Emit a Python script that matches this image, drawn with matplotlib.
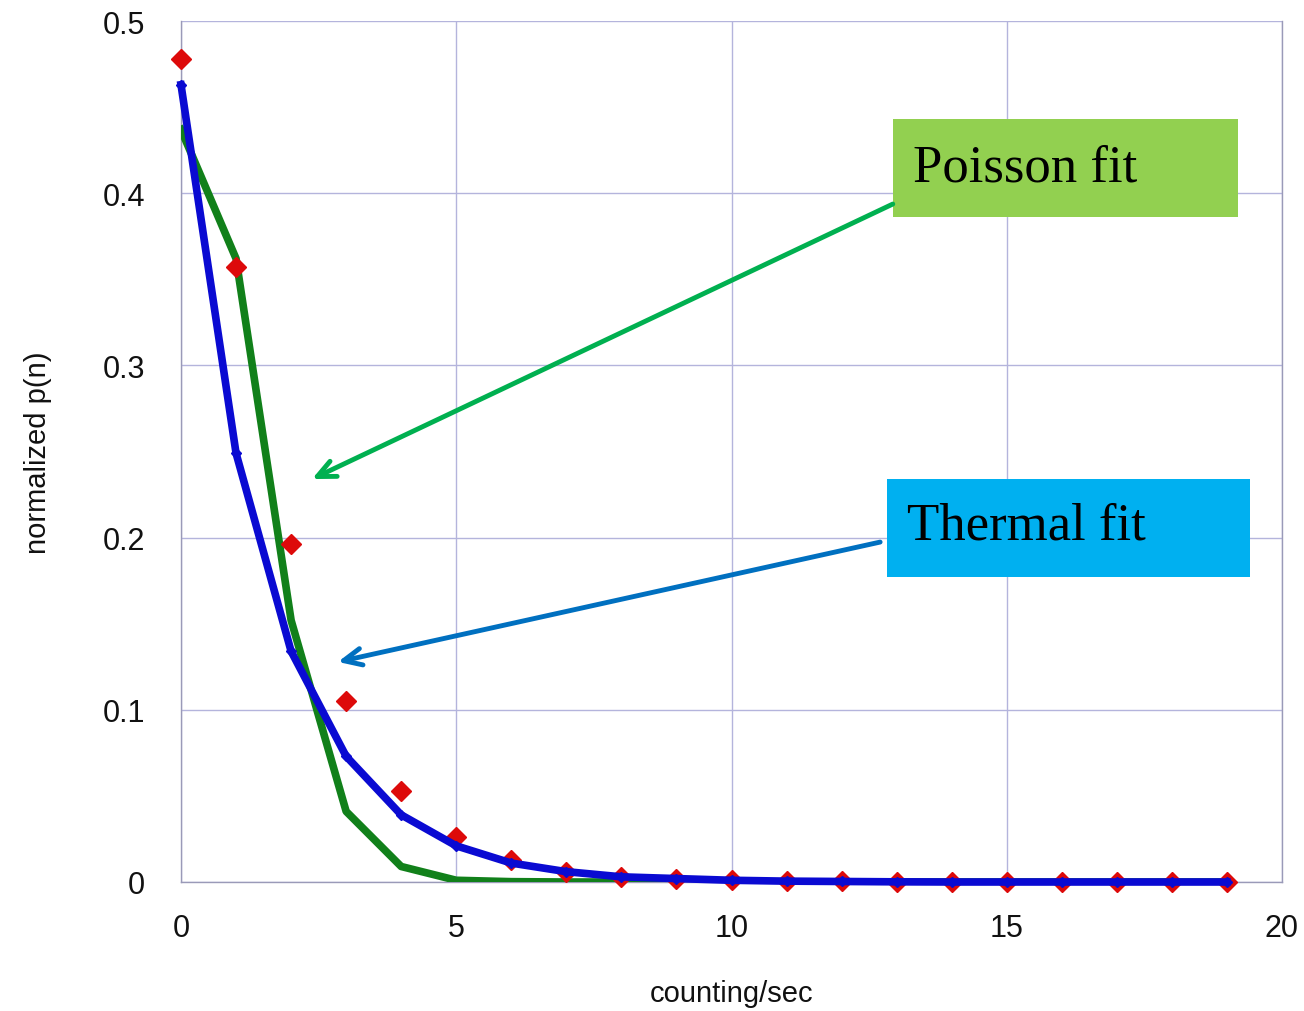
import matplotlib
matplotlib.use("Agg")
import matplotlib.pyplot as plt
from matplotlib.patches import Rectangle

plt.rcParams["font.family"] = ["Liberation Sans", "DejaVu Sans"]

counts = list(range(20))
measured = [0.478, 0.357, 0.196, 0.105, 0.053, 0.026, 0.013, 0.006, 0.003, 0.0015,
            0.001, 0.0005, 0.0003, 0.0002, 0.0001, 0.0, 0.0, 0.0, 0.0, 0.0]
thermal = [0.463, 0.249, 0.134, 0.073, 0.039, 0.021, 0.011, 0.006, 0.003, 0.002,
           0.001, 0.0005, 0.0003, 0.0001, 0.0, 0.0, 0.0, 0.0, 0.0, 0.0]
poisson = [0.437, 0.362, 0.152, 0.041, 0.009, 0.001, 0.0002, 0.0, 0.0, 0.0,
           0.0, 0.0, 0.0, 0.0, 0.0, 0.0, 0.0, 0.0, 0.0, 0.0]
xticks = [0, 5, 10, 15, 20]
yticks = [0, 0.1, 0.2, 0.3, 0.4, 0.5]
ytick_labels = ["0", "0.1", "0.2", "0.3", "0.4", "0.5"]

fig = plt.figure(figsize=(13.04, 10.12), dpi=100)
ax = fig.add_axes([181/1304, 1-883/1012, (1282-181)/1304, (883-22)/1012])
ax.set_xlim(0, 20)
ax.set_ylim(0, 0.5)

grid_c = "#b4b4dc"
ax.set_xticks(xticks)
ax.set_yticks(yticks)
ax.set_yticklabels(ytick_labels)
ax.grid(True, color=grid_c, linewidth=1.0)
for s in ax.spines.values():
    s.set_color("#9a9ab8")
    s.set_linewidth(1.0)
ax.spines["top"].set_visible(False)
ax.tick_params(length=0, labelsize=22, labelcolor="#111111")
ax.tick_params(axis="y", pad=26)
ax.tick_params(axis="x", pad=22)

ax.plot(counts, poisson, color="#11801a", lw=5.5, zorder=3)
ax.plot(counts, measured, linestyle="none", marker="D", color="#dd0a0a",
        markersize=10, zorder=4, clip_on=False)
ax.plot(counts, thermal, color="#0a0ad2", lw=5.5, marker="D", markersize=5,
        zorder=5, clip_on=False)

ax.set_xlabel("counting/sec", fontsize=21, labelpad=26, color="#111111")
ax.set_ylabel("normalized p(n)", fontsize=21, labelpad=36, color="#111111")

# annotation boxes
ax.add_patch(Rectangle((12.93, 0.386), 6.27, 0.057, facecolor="#92d050",
                       edgecolor="none", zorder=6, clip_on=False))
ax.text(13.30, 0.4075, "Poisson fit", family="Liberation Serif", fontsize=38,
        color="black", zorder=7)
ax.add_patch(Rectangle((12.82, 0.177), 6.60, 0.057, facecolor="#00b0f0",
                       edgecolor="none", zorder=6, clip_on=False))
ax.text(13.19, 0.1995, "Thermal fit", family="Liberation Serif", fontsize=38,
        color="black", zorder=7)

ax.annotate("", xy=(2.38, 0.234), xytext=(12.93, 0.3937),
            arrowprops=dict(arrowstyle="->,head_length=1.3,head_width=0.6",
                            color="#00b050", lw=3.5, shrinkA=0, shrinkB=0),
            zorder=6)
ax.annotate("", xy=(2.85, 0.1278), xytext=(12.70, 0.1974),
            arrowprops=dict(arrowstyle="->,head_length=1.3,head_width=0.6",
                            color="#0070c0", lw=3.5, shrinkA=0, shrinkB=0),
            zorder=6)

fig.savefig("out.png", dpi=100)
